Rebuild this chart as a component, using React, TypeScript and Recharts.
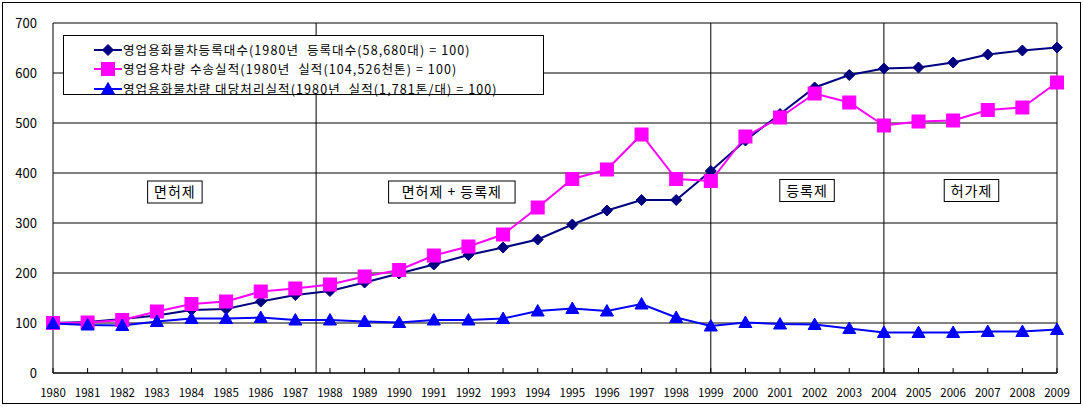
import React from "react";
import {
  LineChart,
  Line,
  XAxis,
  YAxis,
  CartesianGrid,
  Legend,
  ReferenceLine,
  ReferenceDot,
} from "recharts";

const years = [
  1980, 1981, 1982, 1983, 1984, 1985, 1986, 1987, 1988, 1989, 1990, 1991, 1992, 1993, 1994,
  1995, 1996, 1997, 1998, 1999, 2000, 2001, 2002, 2003, 2004, 2005, 2006, 2007, 2008, 2009,
];

// 영업용화물차등록대수 지수
const registered = [
  100, 102, 108, 115, 126, 128, 143, 156, 164, 181, 199, 217, 236, 251, 267,
  297, 325, 346, 346, 404, 465, 518, 571, 596, 609, 611, 621, 637, 645, 651,
];

// 영업용차량 수송실적 지수
const transported = [
  100, 101, 106, 123, 138, 143, 163, 169, 177, 193, 206, 235, 253, 277, 331,
  388, 407, 477, 388, 384, 473, 511, 559, 541, 495, 503, 505, 526, 531, 581,
];

// 영업용화물차량 대당처리실적 지수
const perVehicle = [
  99, 96, 95, 103, 109, 109, 111, 106, 106, 103, 101, 106, 106, 109, 124,
  129, 124, 138, 111, 94, 101, 98, 97, 89, 81, 81, 81, 83, 83, 87,
];

const yTicks = [0, 100, 200, 300, 400, 500, 600, 700];

const seriesNames = [
  "영업용화물차등록대수(1980년  등록대수(58,680대) = 100)",
  "영업용차량 수송실적(1980년  실적(104,526천톤) = 100)",
  "영업용화물차량 대당처리실적(1980년  실적(1,781톤/대) = 100)",
];

// 제도 구분선 (연도)
const periodBreaks = [1987.6, 1999, 2004];

const periodLabels = [
  { text: "면허제", year: 1983.52, value: 362 },
  { text: "면허제 + 등록제", year: 1991.52, value: 362 },
  { text: "등록제", year: 2001.78, value: 365 },
  { text: "허가제", year: 2006.53, value: 365 },
];

const data = years.map((y, i) => ({
  year: y,
  reg: registered[i],
  vol: transported[i],
  per: perVehicle[i],
}));

const FONT = "'Noto Sans CJK KR', 'Noto Sans', sans-serif";
const NAVY = "#000080";
const MAGENTA = "#FF00FF";
const BLUE = "#0000FF";

type Shape = "diamond" | "square" | "triangle";

const Marker = ({ cx, cy, shape, color }: { cx: number; cy: number; shape: Shape; color: string }) => {
  if (cx == null || cy == null) return null;
  if (shape === "diamond") {
    const r = 5.5;
    return (
      <polygon
        points={`${cx},${cy - r} ${cx + r},${cy} ${cx},${cy + r} ${cx - r},${cy}`}
        fill={color}
        stroke={color}
      />
    );
  }
  if (shape === "square") {
    const r = 6.5;
    return <rect x={cx - r} y={cy - r} width={r * 2} height={r * 2} fill={color} stroke={color} />;
  }
  return (
    <polygon
      points={`${cx},${cy - 6.5} ${cx + 6.5},${cy + 5} ${cx - 6.5},${cy + 5}`}
      fill={color}
      stroke={color}
    />
  );
};

const makeDot = (shape: Shape, color: string) => (props: any) => (
  <Marker key={`${shape}-${props.index}`} cx={props.cx} cy={props.cy} shape={shape} color={color} />
);

const legendItems: { shape: Shape; color: string }[] = [
  { shape: "diamond", color: NAVY },
  { shape: "square", color: MAGENTA },
  { shape: "triangle", color: BLUE },
];

const LegendBox = () => (
  <div
    style={{
      border: "1px solid #000",
      background: "#fff",
      width: 481,
      height: 60,
      boxSizing: "border-box",
      paddingTop: 4,
      fontFamily: FONT,
      fontSize: 12.5,
      letterSpacing: 1.1,
      color: "#000",
    }}
  >
    {seriesNames.map((name, i) => (
      <div key={name} style={{ display: "flex", alignItems: "center", height: 19.5 }}>
        <svg width={28} height={16} style={{ marginLeft: 30, marginRight: 1 }}>
          <line x1={0} y1={8} x2={28} y2={8} stroke={legendItems[i].color} strokeWidth={2} />
          <Marker cx={14} cy={8} shape={legendItems[i].shape} color={legendItems[i].color} />
        </svg>
        <span style={{ whiteSpace: "pre", lineHeight: "16px" }}>{name}</span>
      </div>
    ))}
  </div>
);

const XTick = (props: any) => {
  const { x, y, payload } = props;
  return (
    <g>
      <line x1={x} x2={x} y1={y} y2={y - 5} stroke="#000" />
      <text x={x} y={y + 24} textAnchor="middle" fontSize={11.5} fontFamily={FONT} fill="#000">
        {payload.value}
      </text>
    </g>
  );
};

const YTick = (props: any) => {
  const { x, y, payload } = props;
  return (
    <text x={x - 16} y={y + 5} textAnchor="end" fontSize={13} fontFamily={FONT} fill="#000">
      {payload.value}
    </text>
  );
};

const boxWidth = (t: string) =>
  Array.from(t).reduce((w, ch) => w + (/[\uAC00-\uD7A3]/.test(ch) ? 15.5 : 8.5), 0) + 8;

const PeriodLabel = (text: string) => (props: any) => {
  const { cx, cy } = props;
  const w = boxWidth(text);
  return (
    <g>
      <rect x={cx - w / 2} y={cy - 11} width={w} height={22} fill="#fff" stroke="#000" />
      <text
        x={cx}
        y={cy + 5}
        textAnchor="middle"
        fontSize={14}
        fontFamily={FONT}
        fill="#000"
        letterSpacing={1}
        style={{ whiteSpace: "pre" }}
      >
        {text}
      </text>
    </g>
  );
};

export default function App() {
  return (
    <div style={{ position: "absolute", left: 0, top: 0, width: 1083, height: 407, background: "#fff" }}>
      <div
        style={{
          position: "absolute",
          left: 2,
          top: 2,
          width: 1079,
          height: 402,
          border: "1px solid #000",
          boxSizing: "border-box",
        }}
      />
      <div style={{ position: "absolute", left: 0, top: 0 }}>
        <LineChart width={1083} height={407} data={data} margin={{ top: 23, right: 26, left: 0, bottom: 0 }}>
          <CartesianGrid vertical={false} stroke="#000" strokeOpacity={1} />
          <XAxis
            dataKey="year"
            type="number"
            domain={[1980, 2009]}
            ticks={years}
            interval={0}
            height={34}
            axisLine={{ stroke: "#000" }}
            tickLine={false}
            tickSize={0}
            tickMargin={0}
            tick={<XTick />}
          />
          <YAxis
            domain={[0, 700]}
            ticks={yTicks}
            interval={0}
            width={53}
            axisLine={{ stroke: "#000" }}
            tickLine={false}
            tickSize={0}
            tickMargin={0}
            tick={<YTick />}
          />
          <ReferenceLine x={2009} stroke="#000" strokeWidth={1} />
          {periodBreaks.map((b) => (
            <ReferenceLine key={b} x={b} stroke="#000" strokeWidth={1} />
          ))}
          <Line
            dataKey="reg"
            name={seriesNames[0]}
            stroke={NAVY}
            strokeWidth={2}
            dot={makeDot("diamond", NAVY)}
            isAnimationActive={false}
          />
          <Line
            dataKey="vol"
            name={seriesNames[1]}
            stroke={MAGENTA}
            strokeWidth={2}
            dot={makeDot("square", MAGENTA)}
            isAnimationActive={false}
          />
          <Line
            dataKey="per"
            name={seriesNames[2]}
            stroke={BLUE}
            strokeWidth={2}
            dot={makeDot("triangle", BLUE)}
            isAnimationActive={false}
          />
          {periodLabels.map((p) => (
            <ReferenceDot key={p.text} x={p.year} y={p.value} shape={PeriodLabel(p.text)} />
          ))}
          <Legend
            layout="horizontal"
            verticalAlign="middle"
            align="center"
            content={<LegendBox />}
            wrapperStyle={{ position: "absolute", left: 63, top: 35, width: 481, height: 60 }}
          />
        </LineChart>
      </div>
    </div>
  );
}
